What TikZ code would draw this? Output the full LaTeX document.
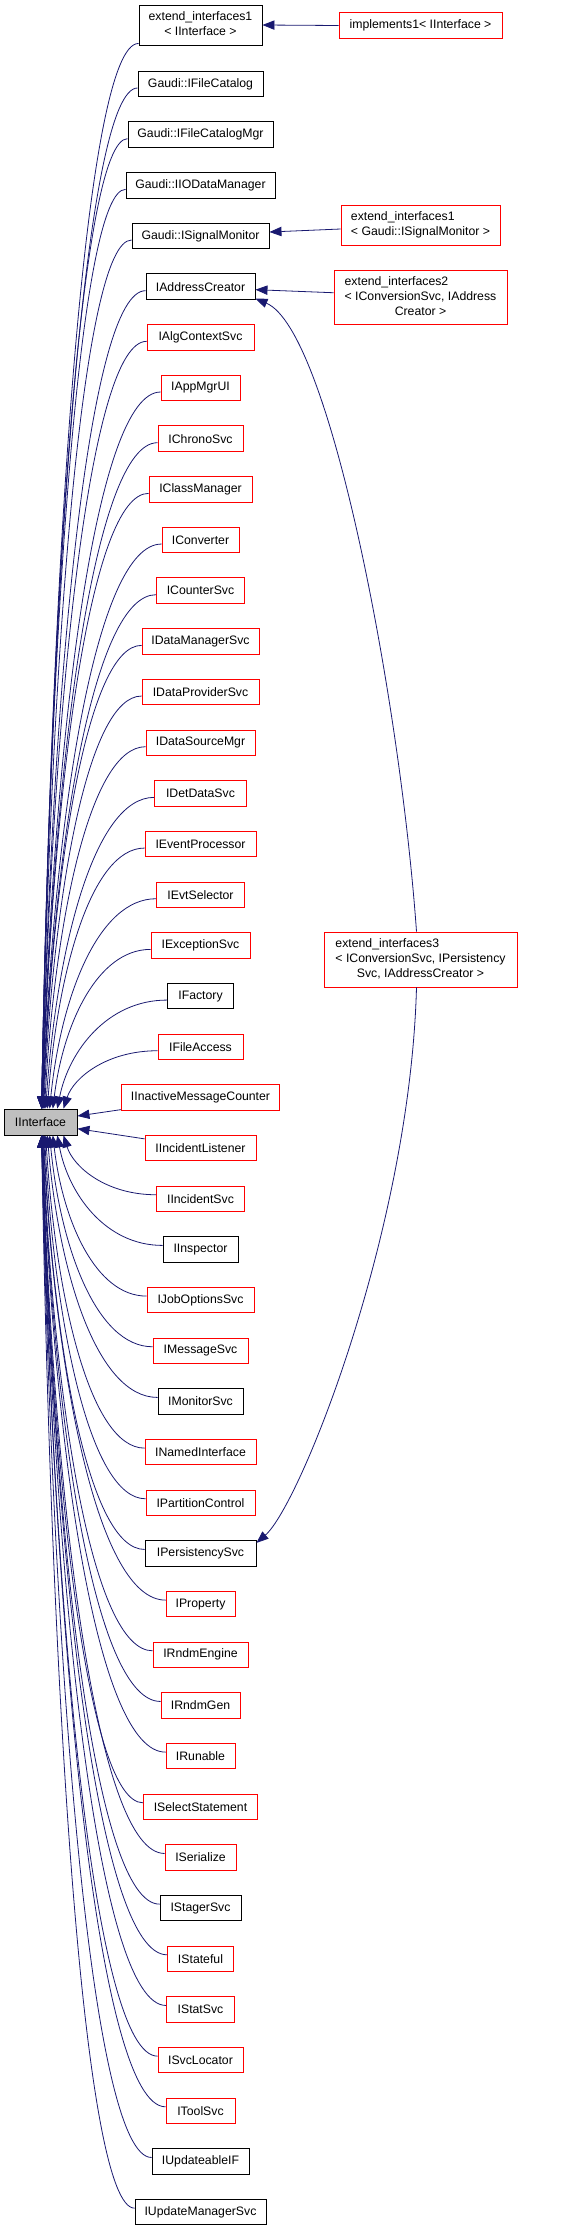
\documentclass[tikz,border=0pt]{standalone}
\usepackage{fontspec}
\setmainfont{Liberation Sans}
\usetikzlibrary{arrows.meta}
\definecolor{edgeblue}{HTML}{191970}
\definecolor{boxred}{HTML}{FF0000}
\definecolor{ifgray}{HTML}{BFBFBF}
\def\nodelist{2/125/black/Gaudi::IFileCatalog,%
3/145/black/Gaudi::IFileCatalogMgr,%
4/149/black/Gaudi::IIODataManager,%
5/137/black/Gaudi::ISignalMonitor,%
6/109/black/IAddressCreator,%
7/107/boxred/IAlgContextSvc,%
8/79/boxred/IAppMgrUI,%
9/85/boxred/IChronoSvc,%
10/103/boxred/IClassManager,%
11/77/boxred/IConverter,%
12/88/boxred/ICounterSvc,%
13/117/boxred/IDataManagerSvc,%
14/117/boxred/IDataProviderSvc,%
15/109/boxred/IDataSourceMgr,%
16/92/boxred/IDetDataSvc,%
17/111/boxred/IEventProcessor,%
18/88/boxred/IEvtSelector,%
19/99/boxred/IExceptionSvc,%
20/66/black/IFactory,%
21/85/boxred/IFileAccess,%
22/158/boxred/IInactiveMessageCounter,%
23/111/boxred/IIncidentListener,%
24/88/boxred/IIncidentSvc,%
25/75/black/IInspector,%
26/107/boxred/IJobOptionsSvc,%
27/95/boxred/IMessageSvc,%
28/85/black/IMonitorSvc,%
29/111/boxred/INamedInterface,%
30/109/boxred/IPartitionControl,%
31/111/black/IPersistencySvc,%
32/69/boxred/IProperty,%
33/95/boxred/IRndmEngine,%
34/79/boxred/IRndmGen,%
35/69/boxred/IRunable,%
36/114/boxred/ISelectStatement,%
37/71/boxred/ISerialize,%
38/81/black/IStagerSvc,%
39/66/boxred/IStateful,%
40/68/boxred/IStatSvc,%
41/85/boxred/ISvcLocator,%
42/69/boxred/IToolSvc,%
43/97/black/IUpdateableIF,%
44/131/black/IUpdateManagerSvc}
\begin{document}
\begin{tikzpicture}[x=0.75pt,y=-0.75pt,
  box/.style={draw=black, line width=0.7pt, fill=white, inner sep=0pt,
    minimum height=25.5*0.75pt, text=black,
    font=\fontsize{9.2pt}{11.25pt}\selectfont},
  edge/.style={draw=edgeblue, line width=0.6pt,
    -{Triangle[length=9pt,width=7pt]}}]
\useasboundingbox (0,0) rectangle (563,2231);

% nodes
\node[box, fill=ifgray, minimum width=73*0.75pt, minimum height=26*0.75pt] (iface) at (40.5,1122) {IInterface};
\node[box, minimum width=123*0.75pt, minimum height=40*0.75pt] (n1) at (200.5,25)
  {\begin{tabular}{@{}c@{}}extend\_interfaces1\\< IInterface >\end{tabular}};
\foreach \rr/\ww/\cc/\lbl in \nodelist {
  \pgfmathsetmacro\cy{84+(\rr-2)*50.67}
  \node[box, draw=\cc, minimum width=\ww*0.75pt] (n\rr) at (200.5,\cy) {\lbl};
}
\node[box, draw=boxred, minimum width=163*0.75pt] (impl) at (420.5,25.5) {implements1< IInterface >};
\node[box, draw=boxred, minimum width=159*0.75pt, minimum height=40*0.75pt] (eisig) at (420.5,225)
  {\begin{tabular}{@{}l@{}}extend\_interfaces1\\< Gaudi::ISignalMonitor >\end{tabular}};
\node[box, draw=boxred, minimum width=173*0.75pt, minimum height=54*0.75pt] (ei2) at (420.5,297)
  {\begin{tabular}{@{}l@{}}extend\_interfaces2\\< IConversionSvc, IAddress\\\multicolumn{1}{@{}c@{}}{Creator >}\end{tabular}};
\node[box, draw=boxred, minimum width=193*0.75pt, minimum height=55*0.75pt] (ei3) at (420.5,959.5)
  {\begin{tabular}{@{}l@{}}extend\_interfaces3\\< IConversionSvc, IPersistency\\\multicolumn{1}{@{}c@{}}{Svc, IAddressCreator >}\end{tabular}};

% edges on the right
\draw[edge] (impl.west) -- (n1.east);
\draw[edge] ([yshift=-3pt]eisig.west) -- ([yshift=3pt]n5.east);
\draw[edge] ([yshift=3.2pt]ei2.west) -- ([yshift=-2.25pt]n6.east);
\draw[edge] ([xshift=-3pt]ei3.north) .. controls (400,700) and (330,330) .. ([yshift=1pt]n6.south east);
\draw[edge] ([xshift=-3pt]ei3.south) .. controls (410,1230) and (300,1505) .. ([yshift=-2pt]n31.north east);

% edges to IInterface
\draw[edge] ([yshift=1.5pt]n1.south west) .. controls (86,43) and (52,540) .. ([xshift=28.5pt]iface.north west);
\foreach \rr/\ww/\cc/\lbl in \nodelist {
  \pgfmathsetmacro\sx{200.5-\ww/2}
  \pgfmathsetmacro\cy{84+(\rr-2)*50.67}
  \ifnum\rr<22
    \pgfmathsetmacro\kk{22-\rr}
    \pgfmathsetmacro\ex{42+22*exp(-(\kk-1)/3)}
    \pgfmathsetmacro\sy{\cy+4}
    \pgfmathsetmacro\ey{1109}
    \pgfmathsetmacro\cax{\sx-0.55*(\sx-\ex)}
    \pgfmathsetmacro\cbx{\ex+0.1*(\sx-\ex)}
    \pgfmathsetmacro\cby{\sy+0.47*(\ey-\sy)}
    \pgfmathsetmacro\exs{(\ex-4)*0.75}
    \draw[edge] ([yshift=-3pt]n\rr.west) .. controls (\cax,\sy) and (\cbx,\cby) .. ([xshift=\exs pt]iface.north west);
  \fi
  \ifnum\rr>23
    \pgfmathsetmacro\kk{\rr-23}
    \pgfmathsetmacro\ex{42+22*exp(-(\kk-1)/3)}
    \pgfmathsetmacro\sy{\cy-4}
    \pgfmathsetmacro\ey{1135}
    \pgfmathsetmacro\cax{\sx-0.55*(\sx-\ex)}
    \pgfmathsetmacro\cbx{\ex+0.1*(\sx-\ex)}
    \pgfmathsetmacro\cby{\sy+0.47*(\ey-\sy)}
    \pgfmathsetmacro\exs{(\ex-4)*0.75}
    \draw[edge] ([yshift=3pt]n\rr.west) .. controls (\cax,\sy) and (\cbx,\cby) .. ([xshift=\exs pt]iface.south west);
  \fi
}
\draw[edge] ([yshift=0.75pt]n22.south west) -- ([yshift=4.5pt]iface.east);
\draw[edge] ([yshift=-3pt]n23.north west) -- ([yshift=-5pt]iface.east);
\end{tikzpicture}
\end{document}
